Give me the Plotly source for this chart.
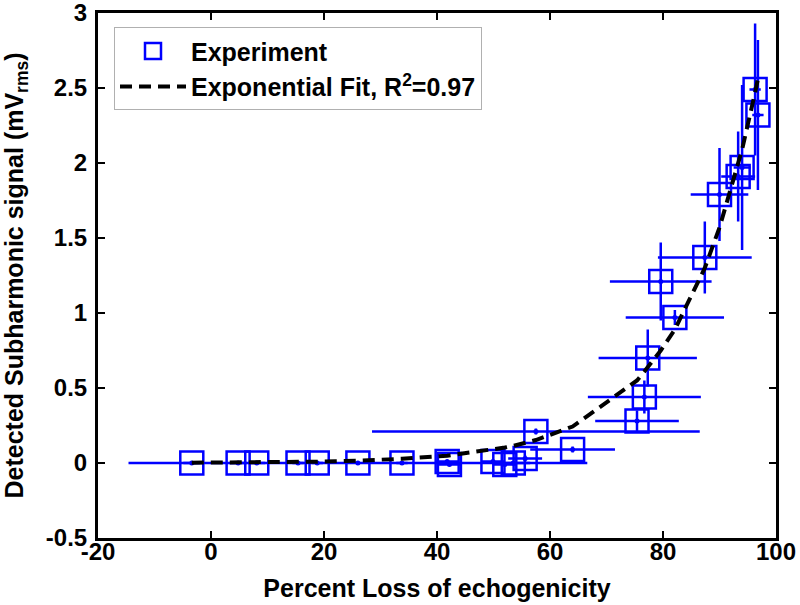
import plotly.graph_objects as go

loss_pct = [-3.4, 4.8, 8.1, 15.4, 18.8, 26.0, 33.8, 41.8, 42.2, 49.9, 52.0, 53.5, 55.6,
            57.5, 64.0, 75.4, 76.7, 77.3, 79.6, 82.1, 87.4, 90.0, 93.3, 94.0, 96.3, 96.8]
signal = [0.0, 0.0, 0.0, 0.0, 0.0, 0.0, 0.0, 0.01, -0.01, 0.01, -0.01, 0.0, 0.03,
          0.21, 0.09, 0.28, 0.44, 0.70, 1.21, 0.97, 1.37, 1.79, 1.91, 1.97, 2.49, 2.32]
loss_err = [1.5, 1.5, 1.5, 1.0, 1.0, 40.6, 1.0, 2.0, 2.0, 2.0, 2.0, 3.0, 3.0,
            29.0, 7.5, 7.4, 10.0, 8.7, 9.0, 8.7, 8.3, 5.1, 3.0, 1.5, 1.0, 1.0]
signal_err = [0.005, 0.005, 0.005, 0.005, 0.005, 0.005, 0.005, 0.01, 0.01, 0.01, 0.01, 0.01, 0.02,
              0.02, 0.02, 0.07, 0.11, 0.19, 0.26, 0.05, 0.24, 0.31, 0.30, 0.55, 0.44, 0.50]

# Exponential fit values (at the data positions)
fit_x = loss_pct
fit_y = [0.002, 0.003, 0.004, 0.007, 0.009, 0.016, 0.028, 0.049, 0.051, 0.088, 0.103, 0.114, 0.133,
         0.153, 0.243, 0.55, 0.61, 0.64, 0.75, 0.89, 1.30, 1.57, 1.99, 2.09, 2.47, 2.56]

x_ticks = [-20, 0, 20, 40, 60, 80, 100]
x_ticktext = ["-20", "0", "20", "40", "60", "80", "100"]
y_ticks = [-0.5, 0, 0.5, 1, 1.5, 2, 2.5, 3]
y_ticktext = ["-0.5", "0", "0.5", "1", "1.5", "2", "2.5", "3"]

BLUE = "#0000ff"
FONT = "Liberation Sans, Arial, sans-serif"

fig = go.Figure()

fig.add_trace(go.Scatter(
    x=loss_pct, y=signal, mode="markers", name="Experiment", legendgroup="exp",
    marker=dict(symbol="square-open", size=23, color=BLUE, line=dict(width=2.5, color=BLUE)),
    error_x=dict(type="data", array=loss_err, color=BLUE, thickness=2.5, width=0),
    error_y=dict(type="data", array=signal_err, color=BLUE, thickness=2.5, width=0),
))
fig.add_trace(go.Scatter(
    x=loss_pct, y=signal, mode="markers", showlegend=False, hoverinfo="skip",
    marker=dict(symbol="circle", size=5, color=BLUE),
))
fig.add_trace(go.Scatter(
    x=fit_x, y=fit_y, mode="lines", name="Exponential Fit, R<sup>2</sup>=0.97",
    legendgroup="fit",
    line=dict(color="black", width=4, dash="12px,7px"),
))

axis_common = dict(
    showline=True, linecolor="black", linewidth=3, mirror="ticks",
    ticks="inside", ticklen=7, tickwidth=2, tickcolor="black",
    showgrid=False, zeroline=False, automargin=False,
    ticklabeloverflow="allow",
    tickfont=dict(family=FONT, size=24, color="black", weight="bold"),
)

fig.update_layout(
    width=800, height=605,
    margin=dict(l=98, r=24, t=13, b=67),
    paper_bgcolor="white", plot_bgcolor="white",
    font=dict(family=FONT, color="black"),
    xaxis=dict(range=[-20, 100], tickvals=x_ticks, ticktext=x_ticktext,
               ticklabelstandoff=-10,
               title=dict(text="<b>Percent Loss of echogenicity</b>",
                          font=dict(family=FONT, size=25, color="black"), standoff=16),
               **axis_common),
    yaxis=dict(range=[-0.5, 3], tickvals=y_ticks, ticktext=y_ticktext,
               ticklabelstandoff=3,
               title=dict(text="<b>Detected Subharmonic signal (mV<sub>rms</sub>)</b>",
                          font=dict(family=FONT, size=25, color="black"), standoff=20),
               **axis_common),
    legend=dict(x=0.0236, y=0.973, xanchor="left", yanchor="top",
                bgcolor="white", bordercolor="#b0b0b0", borderwidth=1,
                font=dict(family=FONT, size=25, color="black", weight="bold"),
                itemwidth=66, tracegroupgap=21, traceorder="normal"),
    showlegend=True,
)

fig.write_html(
    "out.html",
    config={"displayModeBar": False},
    post_script="document.body.style.margin='0';document.body.style.overflow='hidden';",
)
